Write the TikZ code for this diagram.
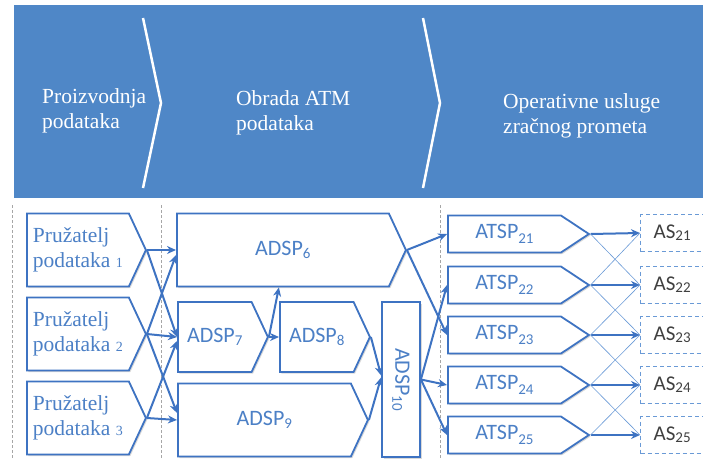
\documentclass[tikz,border=0pt]{standalone}
\usepackage{fontspec}
\setmainfont{Liberation Serif}
\newfontfamily\timesfont{Liberation Serif}
\newfontfamily\calibri{Carlito}
\usetikzlibrary{shapes.symbols, arrows.meta, shadows, calc}
\definecolor{hdrblue}{HTML}{4F87C7}
\definecolor{boxblue}{HTML}{3E73C2}
\definecolor{txtblue}{HTML}{4C80C6}
\definecolor{asblue}{HTML}{6A9AD6}
\definecolor{asgray}{HTML}{3F3F3F}
\tikzstyle{link} = [boxblue, line width=2pt, -{Stealth[length=9pt,width=8pt]}]
\tikzstyle{crosslink} = [asblue, line width=0.6pt]
\newcommand{\lowidx}[2][-3pt]{\raisebox{#1}{\fontsize{15}{15}\selectfont #2}}

\begin{document}
\begin{tikzpicture}[x=1pt, y=-1pt,
  hdr/.style = {text=white, font=\timesfont\fontsize{21.5}{25}\selectfont, align=left, anchor=west, inner sep=0pt},
  shade box/.style = {drop shadow={shadow xshift=1.5pt, shadow yshift=-1.5pt, opacity=0.3, fill=gray}},
  src/.style = {signal, signal to=east, signal pointer angle=130, draw=boxblue, line width=1.8pt, fill=white, shade box,
    text=txtblue, font=\timesfont\fontsize{21.5}{25}\selectfont, align=left, inner sep=0pt, anchor=west,
    minimum width=119pt, minimum height=73pt},
  adsp/.style = {signal, signal to=east, signal pointer angle=130, draw=boxblue, line width=1.8pt, fill=white, shade box,
    text=txtblue, font=\calibri\fontsize{22}{26}\selectfont, inner sep=0pt, anchor=west},
  atsp/.style = {signal, signal to=east, signal pointer angle=67, draw=boxblue, line width=1.8pt, fill=white, shade box,
    text=txtblue, font=\calibri\fontsize{22}{26}\selectfont, inner sep=0pt, anchor=west,
    minimum width=141pt, minimum height=37pt},
  as/.style = {draw=asblue, line width=1.2pt, dash pattern=on 4pt off 3pt, text=asgray,
    font=\calibri\fontsize{21}{24}\selectfont, anchor=west, minimum width=63pt, minimum height=37pt, inner sep=0pt},
  sep/.style = {gray!70, line width=0.8pt, dash pattern=on 3pt off 2pt}]
\useasboundingbox (0,0) rectangle (703,458);

% header band
\fill[hdrblue] (14,5) rectangle (703,198);
\draw[white, line width=2.5pt] (143,18) -- (161,103) -- (143,188);
\draw[white, line width=2.5pt] (423,18) -- (440,103) -- (423,188);
\node[hdr] (prod) at (42,111) {Proizvodnja\\podataka};
\node[hdr] (obrada) at (236,113) {Obrada ATM\\podataka};
\node[hdr] (oper) at (503,116) {Operativne usluge\\zračnog prometa};

% separators
\draw[sep] (12,205) -- (12,458);
\draw[sep] (161,205) -- (161,458);
\draw[sep] (440,205) -- (440,458);

% data providers
\node[src] (p1) at (26,250) {Pružatelj\\podataka {\fontsize{14}{14}\selectfont 1}};
\node[src] (p2) at (26,334) {Pružatelj\\podataka {\fontsize{14}{14}\selectfont 2}};
\node[src] (p3) at (26,418) {Pružatelj\\podataka {\fontsize{14}{14}\selectfont 3}};

% ADSP
\node[adsp, minimum width=229pt, minimum height=73pt] (adsp6) at (176,250) {ADSP\lowidx{6}};
\node[adsp, minimum width=90pt, minimum height=70pt] (adsp7) at (177,337) {ADSP\lowidx{7}};
\node[adsp, minimum width=90pt, minimum height=70pt] (adsp8) at (279,337) {ADSP\lowidx{8}};
\node[adsp, minimum width=190pt, minimum height=73pt] (adsp9) at (177,420) {ADSP\lowidx{9}};
\node[draw=boxblue, line width=1.8pt, fill=white, shade box, text=txtblue, font=\calibri\fontsize{22}{26}\selectfont,
  minimum width=38pt, minimum height=155pt, inner sep=0pt] (adsp10) at (401,379.5)
  {\rotatebox{-90}{ADSP\lowidx{10}}};

% ATSP
\foreach \i/\y in {21/234, 22/285, 23/335, 24/385, 25/435}
  \node[atsp] (atsp\i) at (447,\y) {ATSP\lowidx[-5pt]{\i}};

% airspace users
\foreach \i/\y in {21/233, 22/285, 23/335, 24/385, 25/435}
  \node[as] (as\i) at (640,\y) {AS\lowidx[-2pt]{\i}};

% providers to ADSP
\draw[link] (p1.east) -- (adsp6.west);
\draw[link] (p1.east) -- (adsp7.west);
\draw[link] (p2.east) -- ($(adsp6.west)+(0,5)$);
\draw[link] (p2.east) -- (adsp7.west);
\draw[link] (p2.east) -- ($(adsp9.west)+(0,-7)$);
\draw[link] (p3.east) -- ($(adsp7.west)+(0,4)$);
\draw[link] (p3.east) -- (adsp9.west);

% ADSP chain
\draw[link] (adsp7.east) -- (adsp8.west);
\draw[link] (adsp7.east) -- ($(adsp6.south)+(-4,0)$);
\draw[link] (adsp8.east) -- ($(adsp10.west)+(0,-4)$);
\draw[link] (adsp9.east) -- ($(adsp10.west)+(0,-2)$);

% ADSP to ATSP
\draw[link] (adsp6.east) -- (atsp21.west);
\draw[link] (adsp6.east) -- (atsp23.west);
\draw[link] (adsp10.east) -- (atsp22.west);
\draw[link] (adsp10.east) -- (atsp24.west);
\draw[link] (adsp10.east) -- (atsp25.west);

% ATSP to AS
\foreach \i in {21,...,25}
  \draw[link] (atsp\i.east) -- (as\i.west);
\draw[crosslink] (atsp21.east) -- (as22.west);
\draw[crosslink] (atsp22.east) -- (as21.west);
\draw[crosslink] (atsp22.east) -- (as23.west);
\draw[crosslink] (atsp23.east) -- (as22.west);
\draw[crosslink] (atsp23.east) -- (as24.west);
\draw[crosslink] (atsp24.east) -- (as23.west);
\draw[crosslink] (atsp24.east) -- (as25.west);
\draw[crosslink] (atsp25.east) -- (as24.west);
\end{tikzpicture}
\end{document}
